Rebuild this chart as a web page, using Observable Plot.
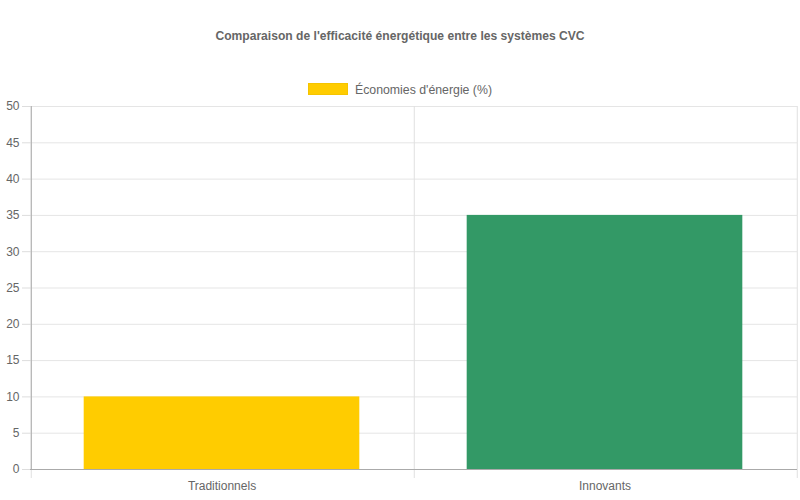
<!DOCTYPE html>
<html><head><meta charset="utf-8">
<script src="https://cdn.jsdelivr.net/npm/d3@7"></script>
<script src="https://cdn.jsdelivr.net/npm/@observablehq/plot@0.6"></script>
<style>
body{margin:0;background:#fff;font-family:"Liberation Sans",Arial,sans-serif;}
#wrap{position:relative;width:800px;height:500px;}
#title{position:absolute;top:29px;left:0;width:800px;text-align:center;font-size:12.1px;font-weight:bold;color:#666;}
#legend{position:absolute;top:83px;left:0;width:800px;text-align:center;font-size:12.3px;color:#666;}
#legend .box{display:inline-block;width:38px;height:10px;background:#FFCC00;border:1px solid #f5c400;vertical-align:-1px;margin-right:7px;}
#chart{position:absolute;top:98px;left:0;}
</style></head>
<body>
<div id="wrap">
<div id="title">Comparaison de l'efficacité énergétique entre les systèmes CVC</div>
<div id="legend"><span class="box"></span>Économies d'énergie (%)</div>
<div id="chart"></div>
</div>
<script>
const categories = ["Traditionnels", "Innovants"];
const savings = [10, 35];
const barColors = ["#FFCC00", "#339966"];
const yTicks = [0, 5, 10, 15, 20, 25, 30, 35, 40, 45, 50];

const data = categories.map((c, i) => ({category: c, value: savings[i], color: barColors[i]}));
const W = 800, H = 402, mL = 30, mR = 3, mT = 8, mB = 31;
const step = (W - mL - mR) / categories.length;
const inset = step * 0.14;

const svg = Plot.plot({
  width: W, height: H,
  marginLeft: mL, marginRight: mR, marginTop: mT, marginBottom: mB,
  style: {fontFamily: "'Liberation Sans', Arial, sans-serif", fontSize: "12px", color: "#666", background: "#fff"},
  x: {domain: categories, padding: 0, label: null},
  y: {domain: [0, 50], label: null},
  marks: [
    Plot.gridY(yTicks, {stroke: "#e5e5e5", strokeOpacity: 1}),
    Plot.ruleX(categories, {x: d => d, dx: -step / 2, stroke: "#e0e0e0", insetBottom: -9}),
    Plot.ruleX([categories[categories.length - 1]], {x: d => d, dx: step / 2 - 0.5, stroke: "#e0e0e0", insetBottom: -9}),
    Plot.barY(data, {x: "category", y: "value", fill: "color", insetLeft: inset - 1, insetRight: inset + 1}),
    Plot.axisY({ticks: yTicks, tickSize: 8, tickPadding: 3, stroke: "#ddd", fill: "#666", fontSize: 12}),
    Plot.ruleX([0], {x: () => categories[0], dx: -step / 2, stroke: "#aaa"}),
    Plot.ruleY([0], {stroke: "#aaa"}),
    Plot.axisX({tickSize: 0, tickPadding: 12, fill: "#666", fontSize: 12, dx: -1})
  ]
});
document.getElementById("chart").appendChild(svg);
</script>
</body></html>
